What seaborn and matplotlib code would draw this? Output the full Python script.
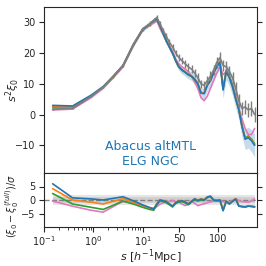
import numpy as np
import pandas as pd
import matplotlib
matplotlib.use("Agg")
import matplotlib.pyplot as plt
import seaborn as sns
from matplotlib.ticker import FixedLocator, NullFormatter

# ---------------- data ----------------
s = [0.15, 0.38, 0.9, 1.58, 2.5, 4.0, 6.5, 10.0, 14.0,
     18, 22, 26, 30, 34, 38, 42, 46, 50, 54, 58, 62, 66, 70, 74, 78, 82,
     86, 90, 94, 98, 102, 106, 110, 114, 118, 122, 126, 130, 134, 138, 142, 146]

xi_blue = [3.0, 2.8, 6.3, 9.1, 12.4, 16.0, 22.8, 27.7, 29.5,
           30.5, 31.0, 29.0, 26.5, 24.0, 22.0, 20.0, 17.5, 15.5, 14.5, 13.8, 13.0, 12.5,
           11.5, 10.0, 7.0, 6.8, 9.5, 11.0, 13.5, 15.5, 17.0, 8.0, 14.0, 12.0, 9.0, 5.0,
           1.5, -4.0, -8.0, -7.5, -8.5, -10.0]
xi_blue_err = [0.3, 0.3, 0.3, 0.4, 0.4, 0.5, 0.6, 0.7, 0.8,
               0.8, 0.9, 0.9, 1.0, 1.0, 1.1, 1.1, 1.2, 1.2, 1.3, 1.3, 1.4, 1.4, 1.5, 1.5,
               1.6, 1.7, 1.8, 1.9, 2.0, 2.2, 2.4, 2.6, 2.6, 2.8, 2.8, 3.0, 3.0, 3.2, 3.4,
               3.4, 3.6, 3.8]
xi_orange = [2.6, 2.5, 6.1, 9.0, 12.3, 15.9, 22.7, 27.6, 29.4,
             30.5, 31.0, 29.0, 26.6, 24.1, 22.1, 20.1, 17.6, 15.6, 14.6, 13.9, 13.1, 12.6,
             11.6, 10.1, 7.2, 7.0, 9.6, 11.1, 13.6, 15.6, 17.1, 8.3, 14.1, 12.1, 9.1, 5.2,
             1.7, -3.8, -7.8, -7.3, -8.3, -9.8]
xi_green = [2.2, 2.1, 5.9, 8.9, 12.2, 15.8, 22.6, 27.5, 29.3,
            30.4, 30.9, 28.9, 26.4, 23.9, 21.9, 19.9, 17.4, 15.4, 14.4, 13.7, 12.9, 12.4,
            11.4, 9.9, 7.1, 7.0, 9.8, 11.4, 13.9, 15.8, 17.2, 8.6, 14.5, 12.5, 9.5, 5.4,
            1.8, -3.6, -7.6, -7.0, -8.0, -9.5]
xi_pink = [1.5, 1.8, 5.5, 8.5, 11.8, 15.5, 22.3, 27.5, 29.0,
           29.8, 30.5, 28.0, 26.0, 24.0, 22.5, 20.5, 18.0, 16.5, 15.5, 14.8, 14.0, 12.5,
           10.5, 8.5, 5.5, 4.5, 6.0, 8.5, 11.0, 13.5, 15.5, 13.0, 14.0, 12.5, 9.5, 6.0,
           2.0, -1.5, -4.5, -6.5, -6.5, -4.5]
xi_full = [1.7, 2.0, 5.9, 8.9, 12.3, 16.0, 22.9, 27.9, 29.6,
           30.7, 31.6, 29.6, 27.4, 25.5, 23.5, 22.0, 20.0, 18.5, 17.5, 16.5, 15.5, 14.8,
           13.5, 12.0, 10.0, 9.5, 11.0, 12.5, 14.5, 17.0, 18.5, 16.0, 15.5, 14.0, 12.0,
           8.5, 4.5, 2.0, 2.5, 1.5, 2.0, 0.0]
xi_full_err = [0.2, 0.2, 0.2, 0.3, 0.3, 0.4, 0.5, 0.6, 0.7,
               0.7, 0.8, 0.8, 0.9, 0.9, 1.0, 1.0, 1.0, 1.1, 1.1, 1.2, 1.2, 1.3, 1.3, 1.4,
               1.4, 1.5, 1.5, 1.6, 1.6, 1.7, 1.7, 1.8, 1.8, 1.9, 2.0, 2.0, 2.1, 2.2, 2.3,
               2.3, 2.4, 2.5]

res_blue = [6.0, 0.8, 0.4, 0.0, 0.6, 1.2, -0.3, -1.8, -2.8,
            -3.4, -1.5, 0.0, -0.3, -0.7, -1.5, -2.3, -1.0, -0.5, -0.3, -0.8, -1.5, -0.5,
            0.4, -0.2, 0.3, 0.0, 1.1, 1.4, 0.0, -0.2, 0.0, -4.0, -0.5, -1.5, -0.5, 0.4,
            -2.3, -2.5, -2.6, -2.3, -2.4, -2.6]
res_orange = [4.2, 0.0, -0.8, -1.5, -0.5, 0.5, -0.8, -2.0, -2.9,
              -3.2, -1.4, 0.1, -0.2, -0.6, -1.4, -2.2, -0.9, -0.4, -0.2, -0.7, -1.4, -0.4,
              0.5, -0.1, 0.4, 0.1, 1.1, 1.4, 0.1, -0.1, 0.1, -3.7, -0.4, -1.3, -0.4, 0.5,
              -2.1, -2.3, -2.4, -2.1, -2.2, -2.4]
res_green = [2.4, -1.5, -2.7, -3.5, -2.0, -0.4, -1.5, -2.7, -3.5,
             -3.8, -1.8, -0.3, -0.6, -1.0, -1.8, -2.6, -1.3, -0.8, -0.6, -1.1, -1.8, -0.8,
             0.1, -0.4, 0.0, -0.2, 0.9, 1.2, -0.1, -0.3, -0.1, -3.6, -0.5, -1.4, -0.5, 0.4,
             -2.2, -2.4, -2.6, -2.2, -2.4, -2.5]
res_pink = [-0.4, -2.3, -3.8, -4.5, -2.5, -0.5, -1.2, -2.2, -3.0,
            -3.0, -2.5, -1.5, -1.0, -0.8, -0.5, -0.2, -0.6, -0.8, -1.5, -2.1, -1.4, -0.6,
            -1.2, -2.1, -1.7, -1.4, -1.0, -0.7, -0.4, -0.2, -0.4, -0.6, -0.7, -0.8, -0.2,
            0.4, -0.2, -0.6, -0.7, -0.8, -0.3, 0.4]

xtick_vals = [0.1, 1, 10, 50, 100]
xtick_labels = ["$10^{-1}$", "$10^{0}$", "$10^{1}$", "50", "100"]
label_text = "Abacus altMTL\nELG NGC"

# ---------------- style ----------------
sns.set_theme(style="ticks")
plt.rcParams["font.family"] = ["DejaVu Sans"]
plt.rcParams["mathtext.fontset"] = "dejavusans"

S0 = 15.0
K = 0.016


def fwd(x):
    x = np.asarray(x, dtype=float)
    lg = np.log10(np.where(x > 0, x, 1e-300))
    return np.where(x < S0, lg, np.log10(S0) + K * (x - S0))


def inv(y):
    y = np.asarray(y, dtype=float)
    return np.where(y < np.log10(S0), 10 ** np.minimum(y, 10), S0 + (y - np.log10(S0)) / K)


s_arr = np.array(s)

fig = plt.figure(figsize=(2.66, 2.66), dpi=100)
L, W = 44 / 266, 213 / 266
ax1 = fig.add_axes([L, 1 - 173 / 266, W, 166 / 266])
ax2 = fig.add_axes([L, 1 - 227 / 266, W, 54 / 266], sharex=ax1)

colors = {"blue": "#1f77b4", "orange": "#ff7f0e", "green": "#2ca02c", "pink": "#e377c2"}
lw = 1.2

# top panel
ax1.fill_between(s_arr, np.array(xi_blue) - np.array(xi_blue_err),
                 np.array(xi_blue) + np.array(xi_blue_err),
                 color=colors["blue"], alpha=0.25, lw=0, zorder=1)
for name, vals in [("pink", xi_pink), ("green", xi_green), ("orange", xi_orange), ("blue", xi_blue)]:
    sns.lineplot(x=s, y=vals, ax=ax1, color=colors[name], lw=lw, sort=False,
                 estimator=None, zorder=3)
ax1.errorbar(s, xi_full, yerr=xi_full_err, color="#7f7f7f", lw=lw, elinewidth=1.0,
             capsize=0, zorder=4)

# bottom panel
ax2.fill_between(s_arr, -2, 2, color="grey", alpha=0.2, lw=0, zorder=1)
ax2.fill_between(s_arr, -1, 1, color="grey", alpha=0.2, lw=0, zorder=1)
ax2.axhline(0, color="grey", ls="--", lw=1.0, zorder=2)
for name, vals in [("pink", res_pink), ("green", res_green), ("orange", res_orange), ("blue", res_blue)]:
    sns.lineplot(x=s, y=vals, ax=ax2, color=colors[name], lw=lw, sort=False,
                 estimator=None, zorder=3)

ax1.set_xscale("function", functions=(fwd, inv))
ax1.set_xlim(0.1, 149)
ax1.set_ylim(-19, 35)
ax2.set_ylim(-10, 10)
ax1.set_yticks([-10, 0, 10, 20, 30])
ax2.set_yticks([-5, 0, 5])

ax2.xaxis.set_major_locator(FixedLocator(xtick_vals))
ax2.set_xticklabels(xtick_labels)
minor = [0.2, 0.3, 0.4, 0.5, 0.6, 0.7, 0.8, 0.9, 2, 3, 4, 5, 6, 7, 8, 9]
ax2.xaxis.set_minor_locator(FixedLocator(minor))
ax2.xaxis.set_minor_formatter(NullFormatter())

for ax in (ax1, ax2):
    ax.tick_params(axis="both", which="major", labelsize=7, length=3.5, width=0.8,
                   right=True, colors="0.15", pad=2.5)
    ax.tick_params(axis="both", which="minor", length=2, width=0.6, right=True)
    for sp in ax.spines.values():
        sp.set_linewidth(0.8)
        sp.set_color("0.15")
ax1.tick_params(labelbottom=False)
ax2.tick_params(axis="x", which="major", pad=1.5)

ax1.set_ylabel("$s^2\\xi_0$", fontsize=8)
ax2.set_ylabel("$(\\xi_0 - \\xi_0^{(full)})/\\sigma$", fontsize=7)
ax2.set_xlabel("$s$ [$h^{-1}$Mpc]", fontsize=8)
ax1.yaxis.set_label_coords(-0.105, 0.5)
ax2.yaxis.set_label_coords(-0.11, 0.38)
ax2.xaxis.set_label_coords(0.5, -0.37)

ax1.text(0.5, 0.115, label_text, transform=ax1.transAxes, ha="center", va="center",
         color=colors["blue"], fontsize=9, linespacing=1.15, multialignment="center")

fig.savefig("out.png", dpi=100)
